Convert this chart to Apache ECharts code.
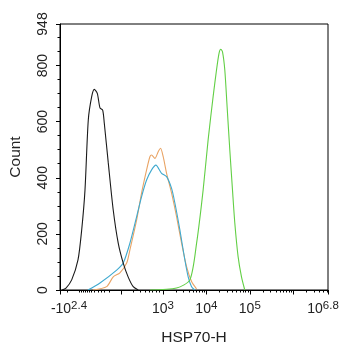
<!DOCTYPE html>
<html>
<head>
<meta charset="utf-8">
<script src="https://cdn.jsdelivr.net/npm/echarts@6/dist/echarts.min.js"></script>
<style>
  html, body { margin: 0; padding: 0; background: #fff; }
  #chart { width: 343px; height: 350px; }
</style>
</head>
<body>
<div id="chart"></div>
<script>
// Channel positions are on the logicle display scale (1 unit = one decade).
const axisMin = 0.632;
const axisMax = 6.8;

// Labelled x ticks and their texts
const xLabelValues = [0.632, 3, 4, 5, 6.8];
const xLabelTexts = ['{m|-10}{s|2.4}', '{b|10}{s|3}', '{b|10}{s|4}', '{b|10}{s|5}', '{b|10}{e|6.8}'];
// Long (decade) ticks, short ticks in the linear region near zero
const xMajorTicks = [0.632, 2.034, 3, 4, 5, 6, 6.8];
const xLinearMinorTicks = [0.809, 1.069, 1.115, 1.161, 1.207, 1.253, 1.299, 1.345, 1.414, 1.506,
  1.575, 1.644, 1.759, 2.310, 2.471, 2.586, 2.678, 2.747, 2.839, 2.908];

// Y ticks
const yLabelValues = [0, 200, 400, 600, 800, 948];
const yMinorTicks = [50, 100, 150, 250, 300, 350, 450, 500, 550, 650, 700, 750, 850, 900];

// Histograms: channel position / event count
const blackChannel = [0.678, 0.770, 0.901, 1.046, 1.131, 1.207, 1.283, 1.361, 1.421, 1.490, 1.552, 1.614, 1.651, 1.743, 1.857, 1.972, 2.087, 2.202, 2.317, 2.432];
const blackCount   = [0, 7, 36, 107, 214, 356, 606, 689, 715, 701, 649, 641, 595, 453, 285, 167, 96, 46, 12, 0];

const orangeChannel = [1.391, 1.706, 1.857, 2.011, 2.166, 2.241, 2.395, 2.510, 2.625, 2.701, 2.740, 2.816, 2.892, 2.947, 3.007, 3.085, 3.200, 3.315, 3.430, 3.545, 3.660, 3.775];
const orangeCount   = [0, 12, 47, 61, 96, 143, 249, 346, 428, 475, 481, 469, 493, 505, 475, 416, 345, 261, 167, 83, 30, 4];

const blueChannel = [1.276, 1.552, 1.936, 2.087, 2.241, 2.395, 2.510, 2.625, 2.740, 2.839, 2.970, 3.085, 3.200, 3.276, 3.391, 3.506, 3.582, 3.660, 3.736];
const blueCount   = [0, 25, 71, 96, 167, 261, 333, 392, 428, 445, 416, 404, 362, 310, 214, 107, 47, 12, 0];

const greenChannel = [2.700, 3.315, 3.621, 3.775, 3.926, 4.041, 4.156, 4.234, 4.294, 4.333, 4.372, 4.425, 4.478, 4.540, 4.602, 4.655, 4.731, 4.809, 4.885];
const greenCount   = [0, 7, 36, 166, 356, 535, 689, 784, 845, 858, 849, 784, 653, 499, 356, 239, 119, 47, 0];

const zip = (xs, ys) => xs.map((x, i) => [x, ys[i]]);

// Short ticks inside each full decade: n + log10(k)
const xMinorTicks = xLinearMinorTicks.slice();
for (let n = 3; n <= 6; n++) {
  for (let k = 2; k <= 9; k++) {
    const v = n + Math.log10(k);
    if (v < axisMax) xMinorTicks.push(+v.toFixed(4));
  }
}

const font = "'Liberation Sans', Arial, Helvetica, sans-serif";
const textColor = '#222';

function curve(name, color, xs, ys) {
  return {
    name, type: 'line', data: zip(xs, ys),
    xAxisIndex: 0, yAxisIndex: 0,
    showSymbol: false, smooth: 0.25,
    lineStyle: { color, width: 1.1 },
    z: 3
  };
}

const chart = echarts.init(document.getElementById('chart'), null, { renderer: 'canvas' });
chart.setOption({
  animation: false,
  backgroundColor: '#fff',
  grid: {
    left: 60, right: 15, top: 24, bottom: 60,
    outerBoundsMode: 'none', containLabel: false,
    show: true, borderColor: '#000', borderWidth: 1, backgroundColor: 'transparent'
  },
  xAxis: [
    {
      type: 'value', min: axisMin, max: axisMax, position: 'bottom',
      name: 'HSP70-H', nameLocation: 'middle', nameGap: 40,
      nameTextStyle: { fontFamily: font, fontSize: 15.5, color: textColor },
      axisLine: { show: true, onZero: false, lineStyle: { color: '#000', width: 1 } },
      axisTick: { show: true, length: 4.5, customValues: xMajorTicks, lineStyle: { color: '#000' } },
      axisLabel: {
        show: true, margin: 10, customValues: xLabelValues,
        formatter: function (v) {
          const i = xLabelValues.findIndex(p => Math.abs(p - v) < 1e-6);
          return i >= 0 ? xLabelTexts[i] : '';
        },
        rich: {
          b: { fontFamily: font, fontSize: 14, color: textColor },
          m: { fontFamily: font, fontSize: 14, color: textColor, padding: [0, 0, 0, 18] },
          s: { fontFamily: font, fontSize: 11.5, color: textColor, padding: [0, 0, 7, 0] },
          e: { fontFamily: font, fontSize: 11.5, color: textColor, padding: [0, 10, 7, 0] }
        }
      },
      splitLine: { show: false }
    },
    {
      type: 'value', min: axisMin, max: axisMax, position: 'bottom',
      axisLine: { show: false, onZero: false },
      axisTick: { show: true, length: 2.5, customValues: xMinorTicks, lineStyle: { color: '#000' } },
      axisLabel: { show: false },
      splitLine: { show: false }
    }
  ],
  yAxis: [
    {
      type: 'value', min: 0, max: 948, position: 'left',
      name: 'Count', nameLocation: 'middle', nameGap: 36, nameRotate: 90,
      nameTextStyle: { fontFamily: font, fontSize: 15.5, color: textColor },
      axisLine: { show: true, lineStyle: { color: '#000', width: 1 } },
      axisTick: { show: true, length: 4, customValues: yLabelValues, lineStyle: { color: '#000' } },
      axisLabel: {
        show: true, rotate: 90, margin: 10, customValues: yLabelValues,
        fontFamily: font, fontSize: 14, color: textColor
      },
      splitLine: { show: false }
    },
    {
      type: 'value', min: 0, max: 948, position: 'left',
      axisLine: { show: false },
      axisTick: { show: true, length: 2.5, customValues: yMinorTicks, lineStyle: { color: '#000' } },
      axisLabel: { show: false },
      splitLine: { show: false }
    }
  ],
  series: [
    curve('Isotype', '#e9a465', orangeChannel, orangeCount),
    curve('Blank', '#3fa9cf', blueChannel, blueCount),
    curve('Unstained', '#1a1a1a', blackChannel, blackCount),
    curve('HSP70', '#62cf45', greenChannel, greenCount)
  ]
});
</script>
</body>
</html>
